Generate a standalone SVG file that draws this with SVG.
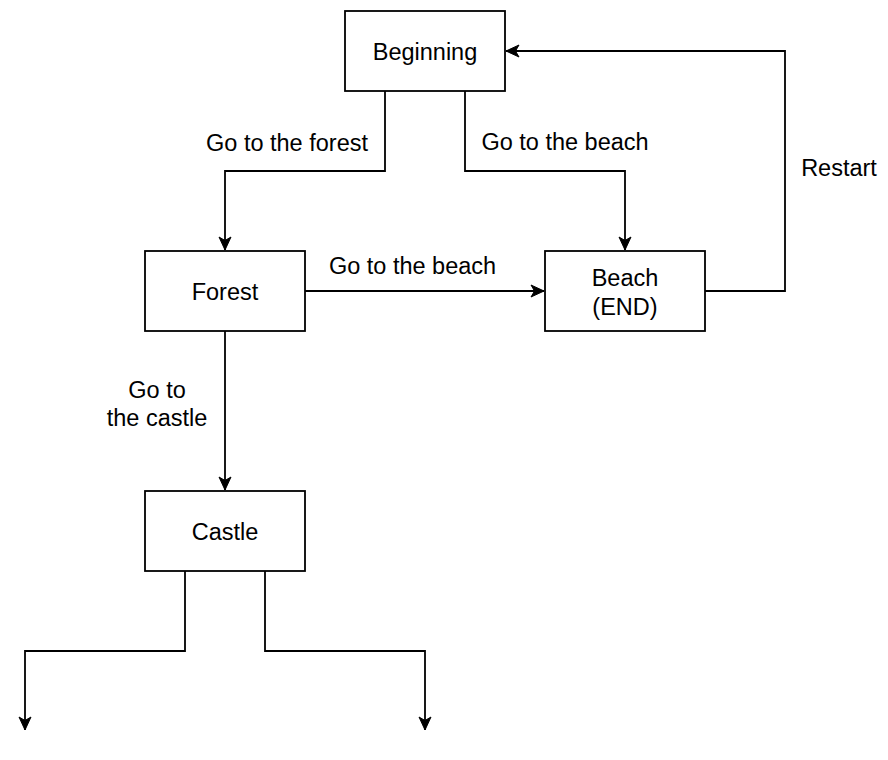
<svg xmlns="http://www.w3.org/2000/svg" width="888" height="760" viewBox="0 0 888 760">
<style>
.box{fill:#fff;stroke:#000;stroke-width:1.8}
.edge{fill:none;stroke:#000;stroke-width:1.8}
text{font-family:"Liberation Sans",Arial,sans-serif;font-size:23.5px;fill:#000;text-anchor:middle}
</style>
<defs>
<marker id="arr" markerUnits="userSpaceOnUse" markerWidth="16" markerHeight="16" viewBox="-14 -8 16 16" refX="0" refY="0" orient="auto">
<path d="M0,0 L-13,-6 L-9.5,0 L-13,6 Z" fill="#000" stroke="#000" stroke-width="1"/>
</marker>
</defs>
<rect width="888" height="760" fill="#fff"/>
<g id="connectors">
<path class="edge" d="M385,91 V171 H225 V250" marker-end="url(#arr)"/>
<path class="edge" d="M465,91 V171 H625 V250" marker-end="url(#arr)"/>
<path class="edge" d="M305,291 H544" marker-end="url(#arr)"/>
<path class="edge" d="M705,291 H785 V51 H506" marker-end="url(#arr)"/>
<path class="edge" d="M225,331 V490" marker-end="url(#arr)"/>
<path class="edge" d="M185,571 V651 H25 V730" marker-end="url(#arr)"/>
<path class="edge" d="M265,571 V651 H425 V730" marker-end="url(#arr)"/>
<text x="287" y="151">Go to the forest</text>
<text x="565" y="150">Go to the beach</text>
<text x="412.5" y="274">Go to the beach</text>
<text x="839" y="176">Restart</text>
<text x="157" y="398">Go to</text>
<text x="157" y="426">the castle</text>
</g>
<g id="beginning">
<rect class="box" x="345" y="11" width="160" height="80"/>
<text x="425" y="59.5">Beginning</text>
</g>
<g id="forest">
<rect class="box" x="145" y="251" width="160" height="80"/>
<text x="225" y="300">Forest</text>
</g>
<g id="beach">
<rect class="box" x="545" y="251" width="160" height="80"/>
<text x="625" y="286">Beach</text>
<text x="625" y="315">(END)</text>
</g>
<g id="castle">
<rect class="box" x="145" y="491" width="160" height="80"/>
<text x="225" y="540">Castle</text>
</g>
</svg>
